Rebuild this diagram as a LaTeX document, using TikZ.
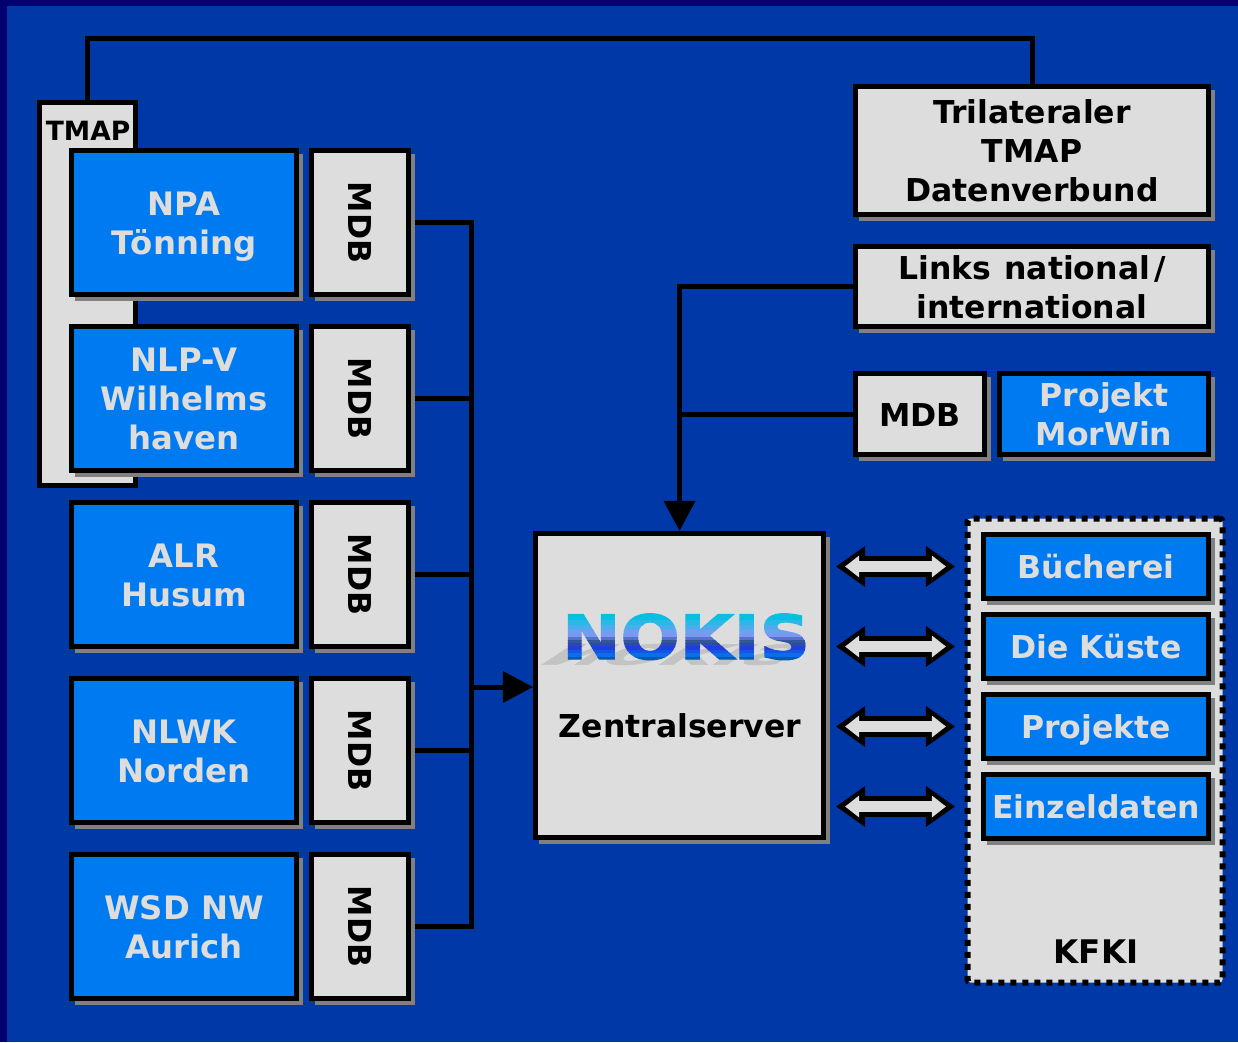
\documentclass[tikz,border=0pt]{standalone}
\usepackage{fontspec}
\setmainfont{DejaVu Sans}[BoldFont={DejaVu Sans Bold}]
\newfontfamily\nokisface{DejaVu Sans Bold}[FakeBold=2]
\usetikzlibrary{shadows,arrows.meta}
\definecolor{navyframe}{RGB}{0,0,110}
\definecolor{bgblue}{RGB}{0,56,168}
\definecolor{boxblue}{RGB}{0,122,240}
\definecolor{lightbox}{RGB}{221,221,221}
\definecolor{shadowgray}{RGB}{128,128,128}
\definecolor{logoshadow}{RGB}{195,195,195}
\pgfdeclarelayer{bglayer}
\pgfdeclarelayer{connlayer}
\pgfsetlayers{bglayer,connlayer,main}
\newcommand{\lsb}{\rule[-7.4pt]{0pt}{38.9pt}}
\tikzset{
 basebox/.style={draw=black,line width=5.3pt,inner sep=0pt,align=center,font=\bfseries\fontsize{31.5}{39}\selectfont,
   general shadow={fill=shadowgray,draw=shadowgray,line width=3pt,shadow xshift=4.5pt,shadow yshift=-4.5pt}},
 bluebox/.style={basebox,fill=boxblue,text=lightbox},
 greybox/.style={basebox,fill=lightbox,text=black},
 rowbox/.style={bluebox,minimum width=225pt,minimum height=144pt,font=\bfseries\fontsize{32.3}{39}\selectfont},
 mdbbox/.style={greybox,minimum width=97pt,minimum height=144pt},
 kfbox/.style={bluebox,minimum width=225pt,minimum height=64pt},
 wire/.style={draw=black,line width=5pt},
 wirearrow/.style={wire,-{Triangle[length=30pt,width=32pt,line width=0pt]}},
 dblblack/.style={draw=black,line width=21pt,
   {Triangle[length=29pt,width=41pt,line width=0pt]}-{Triangle[length=29pt,width=41pt,line width=0pt]},
   shorten <=10pt,shorten >=26pt},
 dbllight/.style={draw=lightbox,line width=11pt,
   {Triangle[length=14pt,width=22pt,line width=0pt]}-{Triangle[length=14pt,width=22pt,line width=0pt]},
   shorten <=19pt,shorten >=35pt},
 nokisfont/.style={font=\nokisface\fontsize{61}{62}\selectfont,inner sep=0pt},
}
\begin{document}
\begin{tikzpicture}[x=1pt,y=-1pt]
\useasboundingbox (0,0) rectangle (1238,1042);
\begin{pgfonlayer}{bglayer}
\fill[navyframe] (0,0) rectangle (1238,1042);
\fill[bgblue] (7,6) rectangle (1238,1042);
\end{pgfonlayer}

% TMAP strip
\node[draw=black,line width=5.3pt,fill=lightbox,minimum width=96pt,minimum height=383pt,inner sep=0pt] (tmap) at (87.5,293.75) {};
\node[font=\bfseries\fontsize{26.5}{30}\selectfont,text=black,inner sep=0pt] (tmaplabel) at (88,131) {TMAP};

% left rows
\node[rowbox] (npa) at (184,222.5) {\lsb NPA\\\lsb Tönning};
\node[rowbox] (nlp) at (184,398.5) {\lsb NLP-V\\\lsb Wilhelms\\\lsb haven};
\node[rowbox] (alr) at (184,574.5) {\lsb ALR\\\lsb Husum};
\node[rowbox] (nlwk) at (184,750.5) {\lsb NLWK\\\lsb Norden};
\node[rowbox] (wsd) at (184,926.5) {\lsb WSD NW\\\lsb Aurich};
\node[mdbbox] (mdba) at (360,222.5) {\rotatebox{-90}{MDB}};
\node[mdbbox] (mdbb) at (360,398.5) {\rotatebox{-90}{MDB}};
\node[mdbbox] (mdbc) at (360,574.5) {\rotatebox{-90}{MDB}};
\node[mdbbox] (mdbd) at (360,750.5) {\rotatebox{-90}{MDB}};
\node[mdbbox] (mdbe) at (360,926.5) {\rotatebox{-90}{MDB}};

% upper right
\node[greybox,minimum width=353pt,minimum height=128pt] (tri) at (1032,150.5) {\lsb Trilateraler\\\lsb TMAP\\\lsb Datenverbund};
\node[greybox,minimum width=353pt,minimum height=80pt] (links) at (1032,286.5) {\lsb Links\kern2pt{} national\kern4pt/\\\lsb international};
\node[greybox,minimum width=129pt,minimum height=81pt] (mdbr) at (920,414) {\lsb MDB};
\node[bluebox,minimum width=209pt,minimum height=81pt] (morwin) at (1104,414) {\lsb Projekt\\\lsb MorWin};

% central server
\node[greybox,minimum width=288pt,minimum height=304pt] (zentral) at (679.5,685.5) {};
\node[nokisfont,text=logoshadow,
      xscale=1.14,yscale=-.45,xslant=-.6,transform shape] (nokisshadow) at (675,654.5) {NOKIS};
\foreach \ya/\yb/\cr/\cg/\cb in {
 610/620/10/190/225, 620/625/40/185/230, 625/630/80/170/235, 630/634/110/160/240,
 634/637/125/150/240, 637/640/85/115/205, 640/643/50/85/155, 643/646/40/75/175,
 646/650/35/60/220, 650/653/20/85/230, 653/657/10/110/235, 657/663/5/90/170}{
  \begin{scope}
    \clip (550,\ya) rectangle (820,\yb);
    \node[nokisfont,anchor=base,text={rgb,255:red,\cr;green,\cg;blue,\cb}] at (686,659) {\scalebox{1.143}[1]{NOKIS}};
  \end{scope}
}
\node[font=\bfseries\fontsize{31.5}{39}\selectfont,text=black,inner sep=0pt] (zlabel) at (680,726) {Zentralserver};

% KFKI
\node[draw=black,line width=6pt,dash pattern=on 6pt off 6pt,fill=lightbox,rounded corners=3pt,
      minimum width=255pt,minimum height=464pt,inner sep=0pt] (kfki) at (1095,750.5) {};
\node[kfbox] (buch) at (1096,566.5) {\lsb Bücherei};
\node[kfbox] (kueste) at (1096,646.5) {\lsb Die Küste};
\node[kfbox] (projekte) at (1096,726.5) {\lsb Projekte};
\node[kfbox] (einzel) at (1096,806.5) {\lsb Einzeldaten};
\node[font=\bfseries\fontsize{32.5}{39}\selectfont,text=black,inner sep=0pt] (kfkilabel) at (1096,952) {KFKI};

% connectors
\coordinate (topy) at (0,38);
\coordinate (bus) at (471,687);
\begin{pgfonlayer}{connlayer}
\draw[wire] (tmap.north) |- (topy -| tri.north) -- (tri.north);
\draw[wire] (mdba.east) -| (bus);
\draw[wire] (mdbe.east) -| (bus);
\draw[wire] (mdbb.east) -- (mdbb.east -| bus);
\draw[wire] (mdbc.east) -- (mdbc.east -| bus);
\draw[wire] (mdbd.east) -- (mdbd.east -| bus);
\draw[wirearrow] (bus) -- (bus -| zentral.west);
\draw[wirearrow] (links.west) -| (zentral.north);
\draw[wire] (mdbr.west) -- (mdbr.west -| zentral.north);
\end{pgfonlayer}

\foreach \t in {buch,kueste,projekte,einzel}{
  \coordinate (from) at (zentral.east |- \t.west);
  \draw[dblblack] (from) -- (\t.west);
  \draw[dbllight] (from) -- (\t.west);
}
\end{tikzpicture}
\end{document}
